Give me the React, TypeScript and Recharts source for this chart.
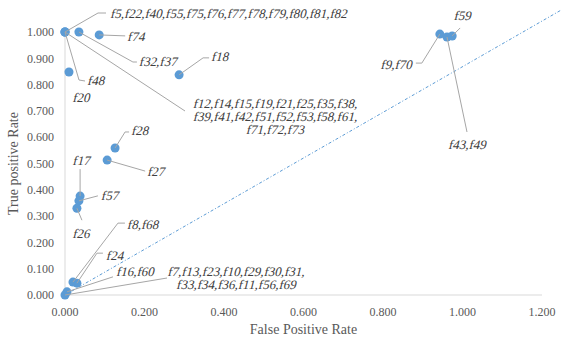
import { ScatterChart, Scatter, XAxis, YAxis, ReferenceLine, Label } from "recharts";

// feature groups and their rates
const groups: string[][] = [
  ["f5,f22,f40,f55,f75,f76,f77,f78,f79,f80,f81,f82"],
  ["f48"],
  ["f12,f14,f15,f19,f21,f25,f35,f38,", "f39,f41,f42,f51,f52,f53,f58,f61,", "f71,f72,f73"],
  ["f32,f37"],
  ["f74"],
  ["f18"],
  ["f20"],
  ["f28"],
  ["f27"],
  ["f17"],
  ["f57"],
  ["f26"],
  ["f8,f68"],
  ["f24"],
  ["f16,f60"],
  ["f7,f13,f23,f10,f29,f30,f31,", "f33,f34,f36,f11,f56,f69"],
  ["f9,f70"],
  ["f59"],
  ["f43,f49"],
];
const fpr = [0, 0, 0, 0.035, 0.086, 0.287, 0.01, 0.126, 0.106, 0.038, 0.035, 0.03, 0.02, 0.03, 0.005, 0, 0.943, 0.974, 0.961];
const tpr = [1, 1, 1, 1, 0.989, 0.837, 0.848, 0.559, 0.513, 0.376, 0.358, 0.33, 0.049, 0.045, 0.012, 0, 0.992, 0.985, 0.981];

const xTicks = [0, 0.2, 0.4, 0.6, 0.8, 1.0, 1.2];
const yTicks = [0, 0.1, 0.2, 0.3, 0.4, 0.5, 0.6, 0.7, 0.8, 0.9, 1.0];
const diagonal = [
  { x: 0, y: 0 },
  { x: 1.25, y: 1.085 },
];

const data = groups.map((g, i) => ({ x: fpr[i], y: tpr[i], lines: g, i }));

// label placement, pixel offsets from the point: leader polyline, text position, anchor
type Place = { path: number[][]; tx: number; ty: number; anchor: "start" | "middle" | "end" };
const places: Place[] = [
  { path: [[0, 0], [33, -19], [41, -19]], tx: 46, ty: -18, anchor: "start" },
  { path: [[0, 0], [14, 48], [20, 49]], tx: 23, ty: 49, anchor: "start" },
  { path: [[0, 0], [120, 79]], tx: 211, ty: 72, anchor: "middle" },
  { path: [[0, 0], [54, 30], [58, 30]], tx: 61, ty: 30, anchor: "start" },
  { path: [[0, 0], [26, 1]], tx: 29, ty: 2, anchor: "start" },
  { path: [[0, 0], [24, -17], [30, -17]], tx: 33, ty: -18, anchor: "start" },
  { path: [], tx: 13, ty: 26, anchor: "middle" },
  { path: [[0, 0], [10, -16], [14, -16]], tx: 17, ty: -17, anchor: "start" },
  { path: [[0, 0], [38, 11]], tx: 41, ty: 11, anchor: "start" },
  { path: [[0, 0], [0, -27]], tx: 2, ty: -36, anchor: "middle" },
  { path: [[0, 0], [19, -5]], tx: 23, ty: -5, anchor: "start" },
  { path: [[0, 0], [5, 12]], tx: 5, ty: 25, anchor: "middle" },
  { path: [[0, 0], [45, -59], [52, -59]], tx: 55, ty: -58, anchor: "start" },
  { path: [[0, 0], [20, -30], [26, -30]], tx: 30, ty: -28, anchor: "start" },
  { path: [[0, 0], [46, -15]], tx: 50, ty: -20, anchor: "start" },
  { path: [[0, 0], [102, -17]], tx: 172, ty: -23, anchor: "middle" },
  { path: [[0, 0], [-18, 29], [-24, 29]], tx: -27, ty: 30, anchor: "end" },
  { path: [[0, 0], [8, -8]], tx: 11, ty: -20, anchor: "middle" },
  { path: [[0, 0], [20, 95]], tx: 21, ty: 108, anchor: "middle" },
];

const serif = "'Liberation Serif', 'Times New Roman', serif";
const fmt = (v: number) => v.toFixed(3);

const Dot = (props: any) => {
  const { cx, cy } = props;
  if (cx == null || cy == null) return null;
  return <circle cx={cx} cy={cy} r={4.5} fill="#5b9bd5" />;
};

// italic faked with a skew, the serif italic face is not available
const Tag = (props: any) => {
  const { cx, cy, payload } = props;
  if (cx == null || cy == null || !payload) return null;
  const p = places[payload.i];
  const pts = p.path.map(([dx, dy]) => `${cx + dx},${cy + dy}`).join(" ");
  return (
    <g>
      {p.path.length > 0 && (
        <polyline points={pts} fill="none" stroke="#a6a6a6" strokeWidth={1} />
      )}
      {payload.lines.map((line: string, k: number) => (
        <text
          key={k}
          transform={`translate(${cx + p.tx},${cy + p.ty + k * 13}) skewX(-14)`}
          textAnchor={p.anchor}
          dominantBaseline="central"
          fontFamily={serif}
          fontSize={13}
          fill="#404040"
        >
          {line}
        </text>
      ))}
    </g>
  );
};

export default function App() {
  return (
    <div style={{ position: "absolute", left: 0, top: 0, background: "#fff" }}>
      <ScatterChart width={561} height={340} margin={{ top: 32, right: 19, bottom: 0, left: 0 }}>
        <XAxis
          type="number"
          dataKey="x"
          domain={[0, 1.2]}
          ticks={xTicks}
          tickFormatter={fmt}
          height={45}
          tickSize={0}
          tickMargin={12}
          axisLine={{ stroke: "#d9d9d9" }}
          tick={{ fontSize: 12, fill: "#595959", fontFamily: serif }}
        >
          <Label
            value="False Positive Rate"
            position="insideBottom"
            offset={6}
            style={{ fontSize: 14, fill: "#595959", fontFamily: serif }}
          />
        </XAxis>
        <YAxis
          type="number"
          dataKey="y"
          domain={[0, 1]}
          ticks={yTicks}
          tickFormatter={fmt}
          width={65}
          tickSize={0}
          tickMargin={11}
          axisLine={{ stroke: "#d9d9d9" }}
          tick={{ fontSize: 12, fill: "#595959", fontFamily: serif }}
        >
          <Label
            content={(lp: any) => {
              const vb = lp.viewBox || { x: 0, y: 32, height: 263 };
              const cy = vb.y + vb.height / 2;
              return (
                <text
                  x={13}
                  y={cy}
                  transform={`rotate(-90, 13, ${cy})`}
                  textAnchor="middle"
                  dominantBaseline="central"
                  fontSize={14}
                  fill="#595959"
                  fontFamily={serif}
                >
                  True positive Rate
                </text>
              );
            }}
          />
        </YAxis>
        <ReferenceLine
          segment={diagonal}
          ifOverflow="visible"
          stroke="#5b9bd5"
          strokeWidth={1}
          strokeDasharray="3 2 1 2"
        />
        <Scatter data={data} shape={Dot} isAnimationActive={false} />
        <Scatter data={data} shape={Tag} isAnimationActive={false} />
      </ScatterChart>
    </div>
  );
}
